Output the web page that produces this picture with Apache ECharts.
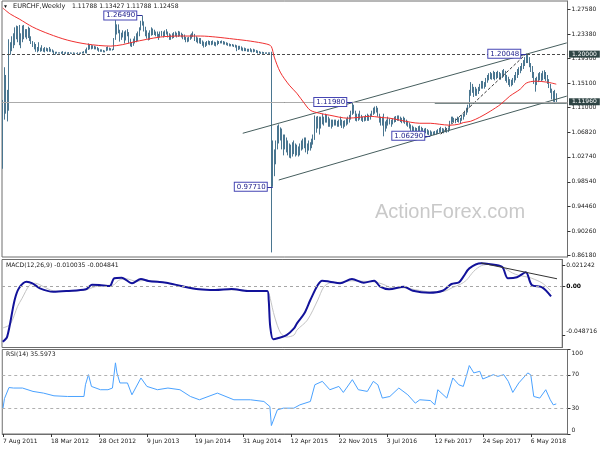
<!DOCTYPE html>
<html><head><meta charset="utf-8">
<script src="https://cdn.jsdelivr.net/npm/echarts@6/dist/echarts.min.js"></script>
<style>html,body{margin:0;padding:0;background:#fff}#c{width:600px;height:450px}</style>
</head><body><div id="c"></div>
<script>
const FONT = 'DejaVu Sans, Verdana, sans-serif';
const SLOTS = 377;               // weekly slots on the time axis
const tickEvery = 32;            // weeks between date labels
const tickLabels = ['7 Aug 2011','18 Mar 2012','28 Oct 2012','9 Jun 2013','19 Jan 2014','31 Aug 2014','12 Apr 2015','22 Nov 2015','3 Jul 2016','12 Feb 2017','24 Sep 2017','6 May 2018'];

// weekly highs / lows / closes, week 0 = 7 Aug 2011
const highs = [
1.1230,1.1780,1.1650,1.1400,1.2250,1.2200,1.2300,1.2350,1.2450,1.2480,
1.2470,1.2490,1.2350,1.2480,1.2490,1.2420,1.2420,1.2460,1.2440,1.2300,
1.2220,1.2200,1.2170,1.2120,1.2200,1.2110,1.2150,1.2100,1.2120,1.2110,
1.2100,1.2120,1.2090,1.2080,1.2060,1.2040,1.2040,1.2030,1.2030,1.2040,
1.2050,1.2030,1.2040,1.2030,1.2035,1.2030,1.2025,1.2030,1.2025,1.2020,
1.2030,1.2025,1.2030,1.2040,1.2050,1.2080,1.2110,1.2180,1.2160,1.2150,
1.2150,1.2140,1.2130,1.2120,1.2100,1.2080,1.2080,1.2070,1.2060,1.2120,
1.2130,1.2110,1.2100,1.2090,1.2270,1.2570,1.2500,1.2500,1.2410,1.2360,
1.2400,1.2380,1.2400,1.2420,1.2370,1.2260,1.2200,1.2260,1.2300,1.2350,
1.2380,1.2450,1.2560,1.2649,1.2550,1.2460,1.2400,1.2360,1.2400,1.2450,
1.2430,1.2410,1.2380,1.2380,1.2340,1.2380,1.2390,1.2380,1.2400,1.2420,
1.2380,1.2350,1.2330,1.2350,1.2370,1.2380,1.2360,1.2390,1.2380,1.2360,
1.2340,1.2330,1.2290,1.2280,1.2290,1.2330,1.2350,1.2380,1.2340,1.2300,
1.2280,1.2270,1.2270,1.2230,1.2210,1.2200,1.2220,1.2230,1.2220,1.2220,
1.2230,1.2210,1.2200,1.2230,1.2220,1.2220,1.2230,1.2220,1.2210,1.2200,
1.2190,1.2180,1.2170,1.2170,1.2160,1.2160,1.2150,1.2140,1.2140,1.2130,
1.2110,1.2110,1.2100,1.2090,1.2090,1.2100,1.2080,1.2090,1.2080,1.2070,
1.2060,1.2050,1.2040,1.2040,1.2035,1.2030,1.2030,1.2030,1.2030,1.2040,
1.0550,1.0400,1.0550,1.0800,1.0820,1.0770,1.0750,1.0650,1.0650,1.0600,
1.0550,1.0500,1.0480,1.0520,1.0550,1.0500,1.0480,1.0450,1.0500,1.0550,
1.0580,1.0600,1.0600,1.0500,1.0550,1.0520,1.0580,1.0650,1.0970,1.0950,
1.0960,1.0950,1.0950,1.1000,1.0950,1.1000,1.0980,1.0950,1.0920,1.0900,
1.0900,1.0900,1.0900,1.0880,1.0900,1.0950,1.0900,1.0880,1.0890,1.0920,
1.0950,1.0980,1.1050,1.1198,1.1150,1.1050,1.1000,1.1000,1.1050,1.0980,
1.0950,1.0950,1.0980,1.1000,1.0980,1.1000,1.1050,1.1100,1.1120,1.1130,
1.1100,1.1000,1.0950,1.0950,1.1000,1.0870,1.0900,1.0950,1.0920,1.0900,
1.0920,1.0950,1.0960,1.0970,1.0970,1.0950,1.0930,1.0950,1.0930,1.0900,
1.0880,1.0850,1.0820,1.0800,1.0780,1.0770,1.0760,1.0790,1.0800,1.0780,
1.0760,1.0750,1.0760,1.0740,1.0720,1.0720,1.0700,1.0700,1.0710,1.0720,
1.0740,1.0760,1.0780,1.0760,1.0750,1.0780,1.0760,1.0760,1.0880,1.0950,
1.0950,1.0930,1.0920,1.0950,1.0940,1.0930,1.0980,1.1000,1.1050,1.1100,
1.1150,1.1400,1.1530,1.1500,1.1450,1.1450,1.1420,1.1450,1.1500,1.1550,
1.1550,1.1530,1.1600,1.1650,1.1680,1.1700,1.1680,1.1720,1.1700,1.1700,
1.1720,1.1700,1.1680,1.1730,1.1750,1.1720,1.1650,1.1620,1.1580,1.1570,
1.1600,1.1650,1.1700,1.1750,1.1780,1.1800,1.1850,1.1900,1.1950,1.2005,
1.1990,1.1950,1.1850,1.1800,1.1700,1.1600,1.1620,1.1680,1.1700,1.1680,
1.1720,1.1730,1.1700,1.1650,1.1580,1.1500,1.1420,1.1380,1.1400,1.1343
];
const lows = [
1.0075,1.0900,1.1000,1.0870,1.1050,1.1990,1.2050,1.2100,1.2150,1.2250,
1.2200,1.2150,1.2100,1.2200,1.2250,1.2280,1.2250,1.2270,1.2220,1.2170,
1.2120,1.2080,1.2040,1.2030,1.2050,1.2040,1.2050,1.2040,1.2030,1.2050,
1.2040,1.2040,1.2040,1.2030,1.2000,1.1990,1.2010,1.2010,1.2010,1.2005,
1.2005,1.2005,1.2005,1.2005,1.2005,1.2005,1.2005,1.2005,1.2005,1.2005,
1.2005,1.2005,1.2005,1.2010,1.2010,1.2015,1.2010,1.2070,1.2080,1.2080,
1.2090,1.2080,1.2080,1.2060,1.2040,1.2040,1.2040,1.2030,1.2030,1.2050,
1.2060,1.2060,1.2060,1.2060,1.2070,1.2240,1.2330,1.2350,1.2210,1.2240,
1.2280,1.2180,1.2230,1.2300,1.2180,1.2130,1.2120,1.2140,1.2180,1.2200,
1.2220,1.2300,1.2400,1.2480,1.2380,1.2300,1.2260,1.2230,1.2240,1.2310,
1.2320,1.2320,1.2300,1.2290,1.2240,1.2280,1.2300,1.2280,1.2300,1.2330,
1.2280,1.2240,1.2240,1.2260,1.2270,1.2300,1.2280,1.2290,1.2300,1.2280,
1.2250,1.2240,1.2200,1.2200,1.2210,1.2240,1.2260,1.2290,1.2220,1.2200,
1.2180,1.2180,1.2170,1.2140,1.2110,1.2120,1.2140,1.2160,1.2150,1.2150,
1.2160,1.2140,1.2130,1.2150,1.2170,1.2180,1.2180,1.2160,1.2160,1.2150,
1.2140,1.2130,1.2130,1.2130,1.2120,1.2110,1.2050,1.2070,1.2080,1.2060,
1.2050,1.2050,1.2050,1.2040,1.2040,1.2040,1.2030,1.2030,1.2040,1.2020,
1.2010,1.2010,1.2005,1.2005,1.2005,1.2005,1.2005,1.2005,1.2005,0.8670,
0.9771,0.9950,1.0150,1.0400,1.0500,1.0550,1.0400,1.0300,1.0400,1.0350,
1.0300,1.0260,1.0250,1.0280,1.0320,1.0280,1.0300,1.0280,1.0300,1.0380,
1.0400,1.0420,1.0350,1.0320,1.0380,1.0380,1.0420,1.0480,1.0560,1.0680,
1.0750,1.0650,1.0750,1.0820,1.0800,1.0850,1.0850,1.0780,1.0780,1.0750,
1.0780,1.0800,1.0800,1.0780,1.0780,1.0800,1.0760,1.0750,1.0780,1.0800,
1.0820,1.0850,1.0900,1.0980,1.1000,1.0880,1.0870,1.0880,1.0900,1.0880,
1.0860,1.0870,1.0880,1.0880,1.0880,1.0900,1.0950,1.0980,1.1000,1.1020,
1.0950,1.0850,1.0800,1.0800,1.0620,1.0700,1.0750,1.0800,1.0820,1.0780,
1.0820,1.0850,1.0860,1.0880,1.0880,1.0860,1.0840,1.0850,1.0830,1.0800,
1.0780,1.0750,1.0700,1.0680,1.0680,1.0690,1.0680,1.0690,1.0700,1.0690,
1.0680,1.0660,1.0670,1.0650,1.0640,1.0629,1.0630,1.0640,1.0640,1.0650,
1.0660,1.0680,1.0690,1.0680,1.0670,1.0690,1.0680,1.0690,1.0720,1.0830,
1.0860,1.0860,1.0840,1.0860,1.0850,1.0830,1.0880,1.0900,1.0950,1.0980,
1.1020,1.1100,1.1300,1.1350,1.1280,1.1300,1.1300,1.1330,1.1380,1.1420,
1.1420,1.1420,1.1450,1.1520,1.1560,1.1580,1.1570,1.1580,1.1560,1.1580,
1.1600,1.1580,1.1570,1.1600,1.1620,1.1550,1.1520,1.1480,1.1450,1.1460,
1.1480,1.1520,1.1560,1.1600,1.1650,1.1680,1.1720,1.1750,1.1800,1.1850,
1.1850,1.1780,1.1700,1.1600,1.1500,1.1370,1.1480,1.1530,1.1560,1.1540,
1.1560,1.1580,1.1550,1.1500,1.1430,1.1350,1.1240,1.1200,1.1170,1.1179
];
const closes = [
1.1000,1.1400,1.1200,1.1150,1.2050,1.2120,1.2200,1.2180,1.2380,1.2400,
1.2300,1.2220,1.2230,1.2400,1.2420,1.2330,1.2350,1.2380,1.2270,1.2200,
1.2150,1.2120,1.2080,1.2100,1.2070,1.2080,1.2070,1.2060,1.2080,1.2060,
1.2060,1.2070,1.2050,1.2050,1.2020,1.2020,1.2020,1.2020,1.2015,1.2015,
1.2015,1.2010,1.2015,1.2010,1.2010,1.2010,1.2010,1.2010,1.2010,1.2010,
1.2010,1.2010,1.2015,1.2020,1.2030,1.2060,1.2090,1.2120,1.2110,1.2100,
1.2120,1.2100,1.2100,1.2080,1.2060,1.2060,1.2050,1.2040,1.2040,1.2100,
1.2100,1.2080,1.2070,1.2080,1.2240,1.2420,1.2400,1.2380,1.2300,1.2320,
1.2350,1.2250,1.2380,1.2320,1.2250,1.2170,1.2170,1.2220,1.2270,1.2280,
1.2360,1.2420,1.2520,1.2530,1.2450,1.2340,1.2300,1.2280,1.2370,1.2380,
1.2390,1.2340,1.2350,1.2310,1.2320,1.2350,1.2330,1.2300,1.2380,1.2350,
1.2320,1.2260,1.2300,1.2300,1.2340,1.2330,1.2300,1.2350,1.2340,1.2300,
1.2280,1.2270,1.2250,1.2240,1.2260,1.2300,1.2320,1.2330,1.2240,1.2230,
1.2210,1.2230,1.2190,1.2180,1.2150,1.2180,1.2200,1.2190,1.2180,1.2200,
1.2180,1.2170,1.2180,1.2200,1.2200,1.2210,1.2200,1.2180,1.2190,1.2170,
1.2160,1.2150,1.2150,1.2140,1.2140,1.2130,1.2090,1.2110,1.2100,1.2080,
1.2070,1.2080,1.2070,1.2060,1.2060,1.2070,1.2040,1.2060,1.2060,1.2030,
1.2020,1.2020,1.2015,1.2010,1.2010,1.2010,1.2010,1.2010,1.2010,1.0260,
1.0000,1.0250,1.0450,1.0650,1.0700,1.0650,1.0600,1.0420,1.0500,1.0450,
1.0420,1.0380,1.0400,1.0420,1.0380,1.0400,1.0380,1.0350,1.0450,1.0420,
1.0500,1.0480,1.0400,1.0450,1.0450,1.0480,1.0550,1.0600,1.0800,1.0850,
1.0820,1.0800,1.0900,1.0900,1.0900,1.0950,1.0900,1.0850,1.0830,1.0820,
1.0850,1.0850,1.0860,1.0820,1.0850,1.0850,1.0800,1.0830,1.0850,1.0880,
1.0900,1.0950,1.1000,1.1100,1.1050,1.0950,1.0920,1.0950,1.0950,1.0920,
1.0900,1.0920,1.0950,1.0930,1.0950,1.0980,1.1000,1.1050,1.1080,1.1100,
1.1000,1.0900,1.0870,1.0900,1.0850,1.0820,1.0850,1.0900,1.0870,1.0850,
1.0880,1.0900,1.0920,1.0950,1.0920,1.0900,1.0880,1.0900,1.0860,1.0840,
1.0820,1.0800,1.0750,1.0720,1.0730,1.0720,1.0710,1.0740,1.0760,1.0720,
1.0710,1.0700,1.0720,1.0680,1.0680,1.0660,1.0660,1.0670,1.0680,1.0690,
1.0700,1.0720,1.0720,1.0700,1.0710,1.0740,1.0720,1.0720,1.0850,1.0900,
1.0920,1.0900,1.0880,1.0920,1.0880,1.0900,1.0950,1.0970,1.1020,1.1050,
1.1100,1.1350,1.1450,1.1400,1.1380,1.1400,1.1380,1.1420,1.1450,1.1500,
1.1480,1.1460,1.1550,1.1600,1.1650,1.1620,1.1610,1.1650,1.1600,1.1660,
1.1650,1.1620,1.1640,1.1680,1.1700,1.1580,1.1600,1.1520,1.1500,1.1520,
1.1550,1.1600,1.1650,1.1700,1.1720,1.1760,1.1800,1.1850,1.1900,1.1960,
1.1900,1.1820,1.1750,1.1650,1.1550,1.1500,1.1580,1.1620,1.1650,1.1600,
1.1650,1.1660,1.1600,1.1550,1.1480,1.1400,1.1300,1.1350,1.1179,1.1246
];
const firstOpen = 1.0950;

// moving average (red), sampled [week, value]
const maPoints = [[0,1.2775],[5,1.2674],[11,1.2590],[20,1.2455],[31,1.2337],[43,1.2236],[56,1.2169],[72,1.2135],[80,1.2160],[87,1.2203],[105,1.2287],[118,1.2304],[132,1.2304],[142,1.2287],[154,1.2253],[165,1.2219],[176,1.2169],[179,1.2130],[181,1.1950],[185,1.1698],[191,1.1479],[196,1.1344],[201,1.1176],[205,1.1058],[211,1.1008],[218,1.0974],[230,1.0924],[238,1.0940],[245,1.0957],[251,1.0940],[258,1.0924],[265,1.0890],[272,1.0856],[278,1.0839],[285,1.0839],[291,1.0823],[298,1.0806],[304,1.0823],[307,1.0850],[312,1.0873],[318,1.0940],[325,1.1041],[332,1.1159],[338,1.1294],[345,1.1412],[349,1.1513],[355,1.1546],[363,1.1529],[369,1.1496]];

// MACD(12,26,9) main and signal, sampled [week, value]
const macdMain = [[0,-0.0552],[3,-0.0502],[8,-0.0137],[11,-0.0017],[16,0.0046],[20,0.0030],[25,-0.0020],[34,-0.0054],[43,-0.0047],[56,-0.0030],[60,0.0016],[65,0.0013],[72,0.0003],[75,0.0080],[80,0.0086],[87,0.0030],[93,0.0073],[98,0.0053],[110,0.0036],[120,0.0003],[132,-0.0030],[143,-0.0037],[154,-0.0027],[165,-0.0047],[178,-0.0047],[179,-0.0140],[180,-0.0400],[182,-0.0528],[185,-0.0518],[191,-0.0486],[196,-0.0419],[198,-0.0369],[203,-0.0269],[207,-0.0137],[212,0.0013],[215,0.0056],[220,0.0046],[227,0.0030],[235,0.0073],[243,0.0036],[250,0.0056],[254,-0.0004],[260,-0.0030],[270,-0.0004],[276,-0.0044],[287,-0.0064],[296,-0.0044],[302,0.0023],[307,0.0040],[310,0.0096],[314,0.0179],[322,0.0229],[327,0.0222],[336,0.0195],[340,0.0080],[346,0.0090],[352,0.0140],[356,0.0013],[363,-0.0010],[369,-0.0100]];
const macdSignal = [[0,-0.0415],[5,-0.0380],[10,-0.0200],[13,-0.0120],[18,0.0010],[22,0.0030],[27,0.0000],[34,-0.0045],[43,-0.0050],[56,-0.0035],[62,-0.0005],[70,0.0010],[74,0.0010],[78,0.0060],[83,0.0075],[90,0.0050],[96,0.0060],[105,0.0048],[115,0.0020],[125,-0.0010],[137,-0.0032],[148,-0.0033],[160,-0.0038],[170,-0.0045],[178,-0.0047],[179,-0.0065],[180,-0.0120],[183,-0.0306],[187,-0.0466],[191,-0.0506],[196,-0.0486],[198,-0.0436],[205,-0.0337],[212,-0.0137],[216,-0.0007],[220,0.0033],[227,0.0040],[235,0.0055],[243,0.0050],[250,0.0045],[256,0.0020],[262,-0.0015],[270,-0.0015],[278,-0.0035],[288,-0.0055],[297,-0.0050],[303,-0.0010],[308,0.0020],[312,0.0060],[317,0.0150],[322,0.0205],[328,0.0220],[336,0.0192],[343,0.0133],[347,0.0110],[353,0.0093],[356,0.0080],[363,0.0033],[369,-0.0048]];

// RSI(14), sampled [week, value]
const rsiPoints = [[0,30.6],[1,42],[4,55],[7,54.4],[13,54.4],[20,50.4],[27,48.4],[34,45.2],[43,44.4],[54,44.4],[55,58.3],[57,70.2],[59,56.3],[65,52.4],[70,52.4],[73,54.4],[75,84.2],[76,72.3],[78,60.4],[83,60.4],[86,46.4],[92,66.3],[96,56.3],[103,52.4],[110,54.4],[118,52.4],[125,44.4],[131,40.5],[143,48.4],[154,40.5],[165,40.5],[174,38.5],[178,32.5],[179,10],[180,8.7],[183,28.6],[187,30.6],[194,30.6],[198,34.5],[205,38.5],[208,58.3],[213,62.3],[218,52.4],[224,56.3],[227,49.2],[233,64.3],[237,52.4],[243,50.4],[247,62.3],[250,58.3],[253,42.5],[258,44.4],[264,54.4],[270,46.4],[275,36.5],[278,40.5],[285,39.6],[288,34.5],[290,52.4],[296,42.5],[300,66.3],[304,58.3],[307,56.3],[309,68.2],[311,81],[314,72.3],[318,74.2],[320,65.1],[327,70.2],[330,68.2],[334,70.2],[337,62.3],[340,49.2],[344,60.4],[350,72.3],[352,70],[354,44.4],[358,42.5],[362,52.4],[365,40.5],[367,34.5],[369,35.6]];

// axis tick values
const priceTicks = [1.2758,1.2338,1.1930,1.1510,1.1100,1.0682,1.0274,0.9854,0.9446,0.9026,0.8618];
const macdTicks = [0.021242, 0, -0.048716];
const rsiTicks = [100, 70, 30, 0];
const rsiLevels = [70, 30];

// horizontal levels and annotations
const levelDashed = [{value:1.2000, label:'1.20000'},{value:1.1196, label:'1.11960'}];
const bidPrice = 1.12458;
const supportLine = [[288,1.1174],[376,1.1174]];
const channelUpper = [[160,1.0671],[376,1.2189]];
const channelLower = [[184,0.9886],[376,1.1295]];
const dashedTrend = [[292,1.0655],[349,1.2005]];
const macdTrend = [[322,0.0232],[373,0.0075]];
const notes = [
  {idx:93, value:1.2649, text:'1.26490'},
  {idx:180, value:0.9771, text:'0.97710'},
  {idx:233, value:1.1198, text:'1.11980'},
  {idx:285, value:1.0629, text:'1.06290'},
  {idx:349, value:1.20048, text:'1.20048'}
];

const cats = Array.from({length: SLOTS}, (_, i) => String(i));
const ohlc = closes.map((c, i) => [i === 0 ? firstOpen : closes[i-1], c, lows[i], highs[i]]);

const BAR = '#4a7690';
const TXT = '#1a1a1a';
const GRIDC = '#6e6e6e';

function xAxisFor(g, bottom) {
  return {
    type: 'category', gridIndex: g, data: cats, boundaryGap: true,
    axisLine: {show: bottom, lineStyle: {color: GRIDC}},
    axisTick: {show: bottom, interval: (i) => i % tickEvery === 0, alignWithLabel: true, length: 3, lineStyle: {color: '#333'}},
    axisLabel: {show: bottom, interval: (i) => i % tickEvery === 0, align: 'left', margin: 4,
      formatter: (v) => tickLabels[Number(v) / tickEvery] || '', fontSize: 6, color: TXT, fontFamily: FONT},
    splitLine: {show: false}
  };
}
function yAxisFor(g, min, max, ticks, fmt) {
  return {
    type: 'value', gridIndex: g, position: 'right', min, max, scale: true,
    splitLine: {show: false},
    axisLine: {show: true, lineStyle: {color: GRIDC}},
    axisTick: {show: true, customValues: ticks, length: 3, lineStyle: {color: '#333'}},
    axisLabel: {customValues: ticks, formatter: fmt, fontSize: 6, color: TXT, fontFamily: FONT, margin: 4,
      rich: {dn: {padding: [8, 0, 0, 0], fontSize: 6, fontFamily: FONT, color: TXT},
             up: {padding: [0, 0, 8, 0], fontSize: 6, fontFamily: FONT, color: TXT},
             up2: {padding: [0, 0, 7, 0], fontSize: 6, fontFamily: FONT, color: TXT},
             bold: {fontSize: 6, fontFamily: FONT, color: '#000', fontWeight: 'bold'}}}
  };
}

const levelLines = levelDashed.map(l => ({
  yAxis: l.value,
  lineStyle: {type: [3, 2], color: '#4a4a4a', width: 1},
  label: {show: true, position: 'end', distance: 1.5, formatter: l.label, color: '#fff',
    backgroundColor: '#2e4444', padding: [1, 3, 0, 3], fontSize: 6, fontFamily: FONT}
}));
const noteLines = notes.map(n => [
  {coord: [n.idx - 4, n.value], label: {show: true, position: 'start', distance: 0, formatter: n.text,
    color: '#22228c', backgroundColor: '#ffffff', borderColor: '#4646b4', borderWidth: 1,
    padding: [1, 1, 0, 2], fontSize: 7, fontFamily: FONT},
   lineStyle: {color: '#30309a', width: 1, type: 'solid'}},
  {coord: [n.idx, n.value]}
]);

function seg(data, g, color, type) {
  return {type: 'line', xAxisIndex: g, yAxisIndex: g, data, showSymbol: false, symbol: 'none',
    lineStyle: {color, width: 1, type: type || 'solid'}, silent: true, z: 4};
}

const option = {
  animation: false,
  backgroundColor: '#ffffff',
  textStyle: {fontFamily: FONT},
  grid: [
    {left: 2, right: 32.5, top: 1, height: 256, show: true, borderColor: GRIDC, borderWidth: 1},
    {left: 2, right: 32.5, top: 259.5, height: 88, show: true, borderColor: GRIDC, borderWidth: 1},
    {left: 2, right: 32.5, top: 349.5, height: 84.5, show: true, borderColor: GRIDC, borderWidth: 1}
  ],
  xAxis: [xAxisFor(0, false), xAxisFor(1, false), xAxisFor(2, true)],
  yAxis: [
    yAxisFor(0, 0.85929, 1.28924, priceTicks, v => v.toFixed(5)),
    yAxisFor(1, -0.06102, 0.02672, macdTicks, v => v === 0 ? '{bold|0.00}' : (v < 0 ? '{up2|' + v.toFixed(6) + '}' : v.toFixed(6))),
    yAxisFor(2, 0, 100, rsiTicks, v => v === 100 ? '{dn|100}' : (v === 0 ? '{up|0}' : String(v)))
  ],
  graphic: [
    {type: 'text', left: 3, top: 4, style: {text: '\u25BC', fontSize: 5, fill: '#111'}},
    {type: 'text', left: 13, top: 3, style: {text: 'EURCHF,Weekly', fontSize: 6.6, fill: TXT, fontFamily: FONT}},
    {type: 'text', left: 72, top: 3, style: {text: '1.11788 1.13427 1.11788 1.12458', fontSize: 6.1, fill: TXT, fontFamily: FONT}},
    {type: 'text', left: 6, top: 262, style: {text: 'MACD(12,26,9) -0.010035 -0.004841', fontSize: 6.1, fill: TXT, fontFamily: FONT}},
    {type: 'text', left: 6, top: 351.5, style: {text: 'RSI(14) 35.5973', fontSize: 6.1, fill: TXT, fontFamily: FONT}},
    {type: 'text', left: 375, top: 202, z: 0, style: {text: 'ActionForex.com', fontSize: 20, fill: '#c9c9c9', fontFamily: 'Liberation Sans, Arial, sans-serif'}}
  ],
  series: [
    {
      type: 'candlestick', xAxisIndex: 0, yAxisIndex: 0, data: ohlc, barWidth: 1, z: 3,
      itemStyle: {color: BAR, color0: BAR, borderColor: BAR, borderColor0: BAR, borderWidth: 1},
      markLine: {
        symbol: ['none', 'none'], silent: true, animation: false,
        data: [
          ...levelLines,
          {yAxis: bidPrice, lineStyle: {type: 'solid', color: '#ababab', width: 1}, label: {show: false}},
          ...noteLines
        ]
      }
    },
    {type: 'line', xAxisIndex: 0, yAxisIndex: 0, data: maPoints, showSymbol: false, symbol: 'none', smooth: 0.3,
      lineStyle: {color: '#f03030', width: 1}, z: 5},
    seg(channelUpper, 0, '#465e5e'),
    seg(channelLower, 0, '#465e5e'),
    seg(supportLine, 0, '#5a6e6e'),
    seg(dashedTrend, 0, '#3a3a3a', [3, 2]),
    {type: 'line', xAxisIndex: 1, yAxisIndex: 1, data: macdSignal, showSymbol: false, symbol: 'none', smooth: 0.3,
      lineStyle: {color: '#c4c4c4', width: 1}, z: 3,
      markLine: {symbol: ['none','none'], silent: true, data: [{yAxis: 0}], label: {show: false},
        lineStyle: {type: [3, 3], color: '#a6a6a6', width: 1}}},
    {type: 'line', xAxisIndex: 1, yAxisIndex: 1, data: macdMain, showSymbol: false, symbol: 'none', smooth: 0.3,
      lineStyle: {color: '#12129a', width: 2}, z: 4},
    seg(macdTrend, 1, '#333333'),
    {type: 'line', xAxisIndex: 2, yAxisIndex: 2, data: rsiPoints, showSymbol: false, symbol: 'none',
      lineStyle: {color: '#4aa2ff', width: 1}, z: 4,
      markLine: {symbol: ['none','none'], silent: true, label: {show: false},
        data: rsiLevels.map(v => ({yAxis: v})),
        lineStyle: {type: [3, 3], color: '#b0b0b0', width: 1}}}
  ]
};
const chart = echarts.init(document.getElementById('c'), null, {renderer: 'canvas', width: 600, height: 450});
chart.setOption(option);
</script>
</body></html>
